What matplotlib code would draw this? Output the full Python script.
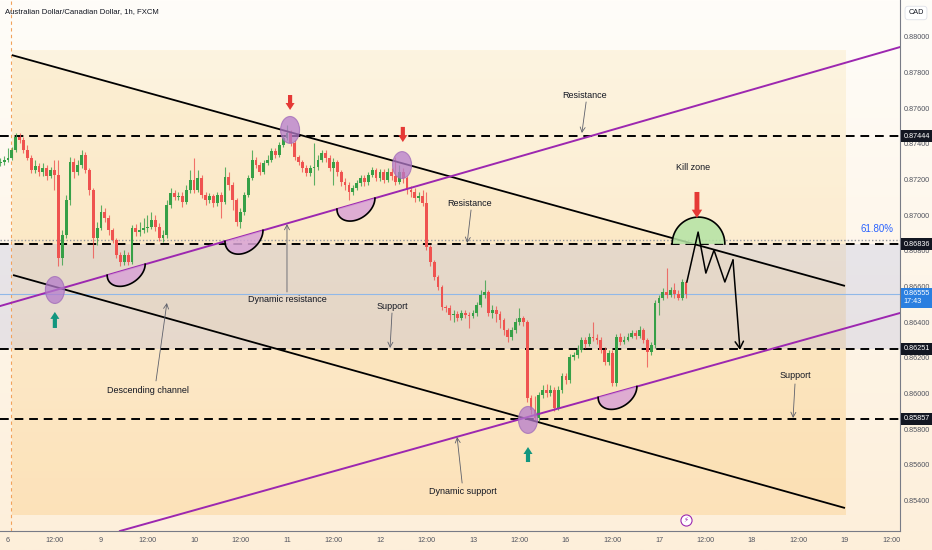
import numpy as np
import matplotlib
matplotlib.use("Agg")
import matplotlib.pyplot as plt
import matplotlib.colors as mcolors
import matplotlib.transforms as mtransforms
from matplotlib.patches import Ellipse, Polygon

# ---------------- data ----------------
title = "Australian Dollar/Canadian Dollar, 1h, FXCM"
first_open = 0.87292
closes = [
    0.87298, 0.87309, 0.87321, 0.87366, 0.87439, 0.87422, 0.87366, 0.87321, 0.87253, 0.87275,
    0.87242, 0.87264, 0.87219, 0.87253, 0.87225, 0.86760, 0.86889, 0.87085, 0.87298, 0.87242,
    0.87281, 0.87338, 0.87253, 0.87141, 0.86872, 0.86928, 0.87018, 0.86984, 0.86917, 0.86861,
    0.86777, 0.86737, 0.86777, 0.86737, 0.86928, 0.86906, 0.86917, 0.86928, 0.86934, 0.86973,
    0.86934, 0.86872, 0.86889, 0.87057, 0.87124, 0.87102, 0.87107, 0.87074, 0.87141, 0.87197,
    0.87141, 0.87208, 0.87113, 0.87085, 0.87107, 0.87068, 0.87113, 0.87074, 0.87214, 0.87169,
    0.87085, 0.86962, 0.87018, 0.87113, 0.87208, 0.87309, 0.87281, 0.87242, 0.87292, 0.87309,
    0.87360, 0.87338, 0.87394, 0.87433, 0.87461, 0.87405, 0.87327, 0.87298, 0.87264, 0.87236,
    0.87264, 0.87270, 0.87309, 0.87349, 0.87321, 0.87264, 0.87298, 0.87242, 0.87186, 0.87169,
    0.87130, 0.87152, 0.87180, 0.87208, 0.87186, 0.87225, 0.87253, 0.87208, 0.87242, 0.87197,
    0.87242, 0.87219, 0.87186, 0.87242, 0.87208, 0.87141, 0.87130, 0.87096, 0.87107, 0.87068,
    0.86822, 0.86737, 0.86653, 0.86597, 0.86485, 0.86479, 0.86440, 0.86446, 0.86423, 0.86451,
    0.86440, 0.86434, 0.86451, 0.86496, 0.86552, 0.86569, 0.86451, 0.86468, 0.86446, 0.86412,
    0.86356, 0.86317, 0.86356, 0.86401, 0.86423, 0.86401, 0.85974, 0.85907, 0.85862, 0.85991,
    0.86019, 0.86002, 0.86019, 0.85918, 0.86019, 0.86097, 0.86075, 0.86205, 0.86216, 0.86244,
    0.86300, 0.86278, 0.86317, 0.86311, 0.86300, 0.86244, 0.86176, 0.86227, 0.86058, 0.86317,
    0.86289, 0.86300, 0.86317, 0.86339, 0.86322, 0.86356, 0.86300, 0.86233, 0.86272, 0.86507,
    0.86535, 0.86569, 0.86552, 0.86580, 0.86558, 0.86535, 0.86625, 0.86555,
]
highs = [
    0.87321, 0.87332, 0.87377, 0.87383, 0.87461, 0.87461, 0.87439, 0.87394, 0.87338, 0.87309,
    0.87292, 0.87292, 0.87281, 0.87270, 0.87309, 0.87309, 0.86917, 0.87113, 0.87327, 0.87321,
    0.87309, 0.87366, 0.87355, 0.87264, 0.87152, 0.86962, 0.87057, 0.87040, 0.87001, 0.86928,
    0.86872, 0.86794, 0.86805, 0.86794, 0.86945, 0.86951, 0.86962, 0.86984, 0.87001, 0.87018,
    0.87001, 0.86956, 0.86917, 0.87085, 0.87152, 0.87141, 0.87130, 0.87130, 0.87169, 0.87253,
    0.87321, 0.87253, 0.87225, 0.87130, 0.87124, 0.87119, 0.87130, 0.87130, 0.87270, 0.87242,
    0.87186, 0.87096, 0.87040, 0.87130, 0.87225, 0.87366, 0.87327, 0.87298, 0.87309, 0.87338,
    0.87377, 0.87377, 0.87411, 0.87450, 0.87506, 0.87478, 0.87422, 0.87338, 0.87309, 0.87281,
    0.87281, 0.87405, 0.87338, 0.87366, 0.87366, 0.87338, 0.87321, 0.87309, 0.87253, 0.87208,
    0.87186, 0.87169, 0.87197, 0.87225, 0.87225, 0.87242, 0.87270, 0.87264, 0.87259, 0.87259,
    0.87264, 0.87264, 0.87327, 0.87281, 0.87264, 0.87219, 0.87163, 0.87152, 0.87130, 0.87141,
    0.87130, 0.86833, 0.86748, 0.86664, 0.86608, 0.86496, 0.86496, 0.86468, 0.86462, 0.86468,
    0.86468, 0.86457, 0.86468, 0.86513, 0.86580, 0.86636, 0.86580, 0.86496, 0.86490, 0.86462,
    0.86423, 0.86367, 0.86373, 0.86423, 0.86479, 0.86434, 0.86412, 0.85991, 0.85985, 0.86008,
    0.86047, 0.86053, 0.86047, 0.86036, 0.86041, 0.86114, 0.86114, 0.86222, 0.86233, 0.86272,
    0.86317, 0.86317, 0.86339, 0.86401, 0.86334, 0.86317, 0.86261, 0.86244, 0.86244, 0.86334,
    0.86339, 0.86322, 0.86339, 0.86356, 0.86356, 0.86378, 0.86367, 0.86311, 0.86289, 0.86524,
    0.86552, 0.86591, 0.86703, 0.86597, 0.86619, 0.86580, 0.86642, 0.86636,
]
lows = [
    0.87275, 0.87281, 0.87298, 0.87309, 0.87355, 0.87405, 0.87349, 0.87309, 0.87236, 0.87236,
    0.87219, 0.87219, 0.87197, 0.87208, 0.87141, 0.86714, 0.86720, 0.86872, 0.87057, 0.87208,
    0.87225, 0.87264, 0.87236, 0.87113, 0.86760, 0.86833, 0.86917, 0.86962, 0.86889, 0.86844,
    0.86760, 0.86714, 0.86720, 0.86720, 0.86726, 0.86883, 0.86883, 0.86900, 0.86906, 0.86923,
    0.86911, 0.86855, 0.86850, 0.86872, 0.87040, 0.87085, 0.87085, 0.87046, 0.87063, 0.87124,
    0.87124, 0.87130, 0.87096, 0.87057, 0.87068, 0.87046, 0.87051, 0.86984, 0.87063, 0.87141,
    0.87029, 0.86939, 0.86928, 0.87001, 0.87102, 0.87197, 0.87264, 0.87225, 0.87231, 0.87281,
    0.87298, 0.87321, 0.87327, 0.87383, 0.87422, 0.87388, 0.87309, 0.87281, 0.87242, 0.87219,
    0.87219, 0.87169, 0.87253, 0.87298, 0.87298, 0.87247, 0.87169, 0.87219, 0.87163, 0.87141,
    0.87085, 0.87113, 0.87141, 0.87163, 0.87163, 0.87169, 0.87214, 0.87191, 0.87191, 0.87180,
    0.87186, 0.87197, 0.87169, 0.87175, 0.87180, 0.87119, 0.87102, 0.87074, 0.87079, 0.87051,
    0.86805, 0.86714, 0.86636, 0.86580, 0.86468, 0.86457, 0.86412, 0.86401, 0.86406, 0.86412,
    0.86423, 0.86367, 0.86423, 0.86434, 0.86485, 0.86535, 0.86434, 0.86423, 0.86401, 0.86367,
    0.86328, 0.86289, 0.86300, 0.86339, 0.86384, 0.86378, 0.85952, 0.85885, 0.85848, 0.85845,
    0.85974, 0.85980, 0.85985, 0.85901, 0.85907, 0.86002, 0.86053, 0.86058, 0.86187, 0.86199,
    0.86233, 0.86255, 0.86266, 0.86294, 0.86278, 0.86227, 0.86159, 0.86159, 0.86041, 0.86041,
    0.86272, 0.86278, 0.86294, 0.86311, 0.86306, 0.86311, 0.86283, 0.86148, 0.86216, 0.86255,
    0.86440, 0.86524, 0.86535, 0.86541, 0.86535, 0.86524, 0.86524, 0.86535,
]

# x tick labels (every 12 hourly bars)
xtick_bars = [2, 14, 26, 38, 50, 62, 74, 86, 98, 110, 122, 134, 146, 158, 170, 182, 194, 206, 218, 230]
xtick_labels = ["6", "12:00", "9", "12:00", "10", "12:00", "11", "12:00", "12", "12:00",
                "13", "12:00", "16", "12:00", "17", "12:00", "18", "12:00", "19", "12:00"]
ytick_values = [0.854, 0.856, 0.858, 0.860, 0.862, 0.864, 0.866, 0.868, 0.870, 0.872,
                0.874, 0.876, 0.878, 0.880]

# horizontal levels
levels = [0.87444, 0.86836, 0.86251, 0.85857]
fib_level = 0.86861
fib_label = "61.80%"
last_price = 0.86555
last_time = "17:43"
zone_band = (0.86251, 0.86836)

# drawings (bar index, price)
chan_upper = ([3.0, 218.0], [0.87898, 0.86603])
chan_lower = ([3.3, 218.0], [0.86664, 0.85357])
purple_upper = ([-0.06, 232.2], [0.86490, 0.87943])
purple_lower = ([30.9, 232.2], [0.85228, 0.86451])
zone_rect_x = (3.0, 218.0)
zone_rect_y = (0.85318, 0.87926)

circles_k = [14.1, 74.8, 103.7, 136.2]
circles_p = [0.86580, 0.87478, 0.87281, 0.85851]

cups_upper = [(27.6, 37.4, 0.00088), (58.0, 67.8, 0.00098), (86.9, 96.7, 0.00093)]
cups_lower = [(154.3, 164.3, 0.00093)]
kill_zone = (173.4, 187.0, 0.86838, 0.00151)

red_arrows = [(74.8, 0.87674, 0.87590), (103.9, 0.87495, 0.87410)]
kill_arrow = (179.8, 0.87130, 0.86984)
green_arrows = [(14.1, 0.86367, 0.86457), (136.2, 0.85615, 0.85699)]

path_k = [177.2, 180.1, 182.1, 184.2, 187.0, 189.1, 190.9]
path_p = [0.86625, 0.86905, 0.86675, 0.86804, 0.86625, 0.86748, 0.86244]

# (text, text_k, text_p, tail_k, tail_p, tip_k, tip_p)
notes = [
    ("Resistance", 150.9, 0.87674, 151.2, 0.87635, 150.1, 0.87461),
    ("Resistance", 121.2, 0.87068, 121.5, 0.87029, 120.5, 0.86844),
    ("Support", 101.1, 0.86490, 101.1, 0.86451, 100.6, 0.86255),
    ("Dynamic resistance", 74.0, 0.86524, 74.0, 0.86569, 74.0, 0.86950),
    ("Descending channel", 38.1, 0.86019, 40.2, 0.86070, 43.0, 0.86507),
    ("Dynamic support", 119.4, 0.85447, 119.2, 0.85497, 117.9, 0.85755),
    ("Support", 205.1, 0.86098, 205.1, 0.86053, 204.6, 0.85862),
]
kill_label = ("Kill zone", 178.8, 0.87265)
session_break = 2.8
icon_pos = (177.0, 0.85290)

# ---------------- style ----------------
FONT = ["Liberation Sans Narrow", "Liberation Sans", "DejaVu Sans"]
plt.rcParams["font.family"] = FONT
GREEN = "#36a047"
RED = "#ef5350"
PURPLE = "#9c27b0"

W, H = 932, 550
fig = plt.figure(figsize=(W / 100, H / 100), dpi=100)

# soft background gradient over whole picture
bg = fig.add_axes([0, 0, 1, 1], zorder=-10)
g = np.linspace(0, 1, 256)[:, None, None]
c_top = np.array(mcolors.to_rgb("#fffdf9"))
c_bot = np.array(mcolors.to_rgb("#fdefda"))
bg.imshow(c_top * (1 - g) + c_bot * g, aspect="auto", extent=[0, 1, 0, 1], origin="upper")
bg.axis("off")

ax = fig.add_axes([0, 19 / H, 900 / W, 531 / H])
ax.set_facecolor("none")
ax.set_xlim(-0.06, 232.2)
ax.set_ylim(0.85228, 0.88207)

# orange zone rectangle
gz = np.linspace(0, 1, 256)[:, None, None]
z_top = np.array(mcolors.to_rgba("#fdefcf", 0.55))
z_bot = np.array(mcolors.to_rgba("#fcd9a2", 0.6))
ax.imshow(z_top * (1 - gz) + z_bot * gz, aspect="auto",
          extent=[zone_rect_x[0], zone_rect_x[1], zone_rect_y[0], zone_rect_y[1]],
          origin="upper", zorder=0.5)

# channel fill
ax.fill_between(chan_upper[0], chan_lower[1], chan_upper[1], color="#fbd89c", alpha=0.18,
                lw=0, zorder=0.6)

# blue band
ax.axhspan(zone_band[0], zone_band[1], color="#8f9ce0", alpha=0.2, lw=0, zorder=0.8)

# session break
ax.axvline(session_break, color="#f2a25b", lw=0.8, ls=(0, (3, 3)), zorder=1)

# horizontal levels
for lv in levels:
    ax.axhline(lv, color="black", lw=1.4, ls=(0, (4.5, 3)), zorder=2)
ax.axhline(fib_level, color="#9598a1", lw=1.0, ls=(0, (1, 1.5)), zorder=2)
ax.axhline(last_price, color="#90b8e8", lw=0.8, zorder=2)
ax.text(230.4, fib_level + 0.00062, fib_label, color="#2962ff", fontsize=7, ha="right",
        va="center", zorder=8)

# candles
closes_a = np.array(closes)
opens_a = np.concatenate([[first_open], closes_a[:-1]])
highs_a = np.maximum(np.array(highs), np.maximum(opens_a, closes_a))
lows_a = np.minimum(np.array(lows), np.minimum(opens_a, closes_a))
ks = np.arange(len(closes_a))
is_up = closes_a >= opens_a
cols = np.where(is_up, GREEN, RED)
ax.vlines(ks, lows_a, highs_a, colors=cols, lw=0.8, alpha=0.8, zorder=3)
body_lo = np.minimum(opens_a, closes_a)
body_h = np.maximum(np.abs(closes_a - opens_a), 0.00003)
ax.bar(ks, body_h, bottom=body_lo, width=0.72, color=cols, lw=0, zorder=3.1)

# trend lines
ax.plot(*chan_upper, color="black", lw=1.3, zorder=4, solid_capstyle="butt")
ax.plot(*chan_lower, color="black", lw=1.3, zorder=4, solid_capstyle="butt")
ax.plot(*purple_upper, color=PURPLE, lw=1.4, zorder=4)
ax.plot(*purple_lower, color=PURPLE, lw=1.4, zorder=4)


def half_shape(k0, k1, line, depth, sign, fc, base=None):
    t = np.linspace(0, np.pi, 80)
    if base is None:
        p0 = np.interp(k0, line[0], line[1])
        p1 = np.interp(k1, line[0], line[1])
    else:
        p0 = p1 = base
    xm, hx = (k0 + k1) / 2, (k1 - k0) / 2
    ym, hy = (p0 + p1) / 2, (p1 - p0) / 2
    xs = xm - np.cos(t) * hx
    ys = ym - np.cos(t) * hy + sign * np.sin(t) * depth
    ax.add_patch(Polygon(np.column_stack([xs, ys]), closed=True, fc=fc, ec="none",
                         alpha=0.85, zorder=5))
    ax.plot(xs, ys, color="black", lw=1.2, zorder=5.1)


for k0, k1, d in cups_upper:
    half_shape(k0, k1, purple_upper, d, -1, "#d9a3d6")
for k0, k1, d in cups_lower:
    half_shape(k0, k1, purple_lower, d, -1, "#d9a3d6")
half_shape(kill_zone[0], kill_zone[1], None, kill_zone[3], 1, "#b4e3a4", base=kill_zone[2])

# circles
for k, p in zip(circles_k, circles_p):
    ax.add_patch(Ellipse((k, p), width=4.9, height=0.00151, fc="#b47bcb", ec="#a06ab8",
                         lw=0.8, alpha=0.75, zorder=6))

# arrows


def block_arrow(k, tail, tip, color, hw=0.65, tw=0.3, hl=0.5):
    ax.annotate("", xy=(k, tip), xytext=(k, tail),
                arrowprops=dict(arrowstyle=f"simple,head_length={hl},head_width={hw},tail_width={tw}",
                                fc=color, ec="none", shrinkA=0, shrinkB=0), zorder=7)


for k, tail, tip in red_arrows:
    block_arrow(k, tail, tip, "#e53935")
block_arrow(kill_arrow[0], kill_arrow[1], kill_arrow[2], "#e53935", hw=0.75, tw=0.35, hl=0.6)
for k, tail, tip in green_arrows:
    block_arrow(k, tail, tip, "#12967f")

# projected path
ax.plot(path_k[:-1], path_p[:-1], color="black", lw=1.1, zorder=7)
ax.annotate("", xy=(path_k[-1], path_p[-1]), xytext=(path_k[-2], path_p[-2]),
            arrowprops=dict(arrowstyle="->,head_length=0.5,head_width=0.3", color="black",
                            lw=1.1, shrinkA=0, shrinkB=0), zorder=7)

# notes
for txt, tk, tp, ak, ap, bk, bp in notes:
    ax.text(tk, tp, txt, fontsize=6.5, color="#131722", ha="center", va="center", zorder=8)
    ax.annotate("", xy=(bk, bp), xytext=(ak, ap),
                arrowprops=dict(arrowstyle="->,head_length=0.35,head_width=0.18", color="#5d606b",
                                lw=0.6, shrinkA=0, shrinkB=0), zorder=8)
ax.text(kill_label[1], kill_label[2], kill_label[0], fontsize=6.5, color="#131722",
        ha="center", va="center", zorder=8)

# bottom icon
ax.plot(*icon_pos, marker="o", ms=8, mfc="white", mec=PURPLE, mew=0.8, zorder=8, clip_on=False)
ax.text(*icon_pos, "\u26a1", fontsize=5, color=PURPLE, ha="center", va="center", zorder=9,
        family=["DejaVu Sans"])

# axes styling
for s in ["top", "left"]:
    ax.spines[s].set_visible(False)
ax.spines["right"].set_color("#787b86")
ax.spines["bottom"].set_color("#787b86")
ax.spines["right"].set_linewidth(0.8)
ax.spines["bottom"].set_linewidth(0.8)
ax.yaxis.tick_right()
ax.set_yticks(ytick_values)
ax.set_yticklabels([f"{v:.5f}" for v in ytick_values])
ax.set_xticks(xtick_bars)
ax.set_xticklabels(xtick_labels)
ax.tick_params(axis="y", length=0, pad=3, labelsize=5.2, labelcolor="#50535e")
ax.tick_params(axis="x", length=0, pad=4, labelsize=5.2, labelcolor="#50535e")

# price-axis boxes
trans = mtransforms.blended_transform_factory(ax.transAxes, ax.transData)
for lv in levels:
    ax.text(1.004, lv, f"{lv:.5f}", transform=trans, fontsize=5.2, color="white",
            ha="left", va="center", zorder=20, clip_on=False,
            bbox=dict(boxstyle="square,pad=0.35", fc="#131722", ec="none"))
ax.text(1.004, last_price - 0.00018, f"{last_price:.5f}\n{last_time}", transform=trans,
        fontsize=5.2, color="white", ha="left", va="center", zorder=20, clip_on=False,
        linespacing=1.25, bbox=dict(boxstyle="square,pad=0.35", fc="#2a7fe0", ec="none"))

fig.text(916 / W, 1 - 13 / H, "CAD", fontsize=5.2, color="#131722", ha="center", va="center",
         bbox=dict(boxstyle="round,pad=0.45", fc="white", ec="#dfe1e8", lw=0.6))
fig.text(5 / W, 1 - 12 / H, title, fontsize=5.6, color="#131722", ha="left", va="center")

fig.savefig("out.png", dpi=100)
